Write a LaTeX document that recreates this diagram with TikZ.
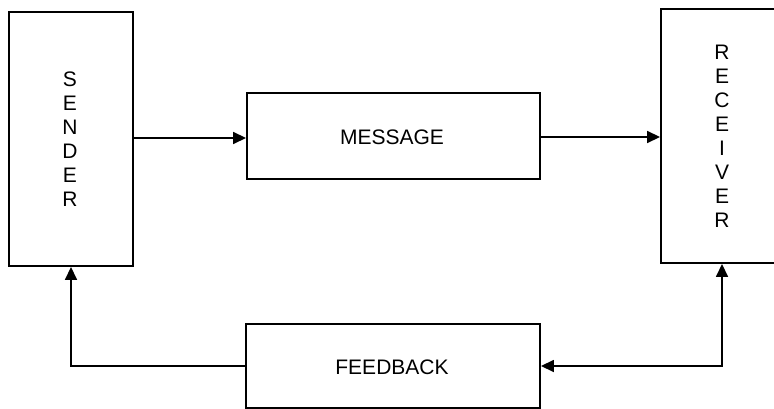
\documentclass[tikz,border=0pt]{standalone}
\usepackage{fontspec}
\setmainfont{Liberation Sans}
\usetikzlibrary{arrows.meta}
\begin{document}
\begin{tikzpicture}[x=1pt,y=-1pt,
  blockbox/.style={draw,line width=1.9pt,inner sep=0pt,anchor=center},
  lbl/.style={font=\fontsize{21}{24}\selectfont,align=center,inner sep=0pt},
  conn/.style={line width=1.6pt,-{Triangle[length=13pt,width=12pt]}}]
\useasboundingbox (0,0) rectangle (774,409);
\clip (0,0) rectangle (774,409);
\fill[white] (0,0) rectangle (774,409);
\node[blockbox,minimum width=124pt,minimum height=254pt] (sender) at (71,139) {};
\node[lbl] (sendertext) at (70,139) {S\\E\\N\\D\\E\\R};
\node[blockbox,minimum width=293pt,minimum height=86pt] (message) at (393.5,136) {};
\node[lbl] (messagetext) at (392,137) {MESSAGE};
\node[blockbox,minimum width=122pt,minimum height=254pt] (receiver) at (722,136) {};
\node[lbl] (receivertext) at (722,136.5) {R\\E\\C\\E\\I\\V\\E\\R};
\node[blockbox,minimum width=294pt,minimum height=84pt] (feedback) at (393,366) {};
\node[lbl] (feedbacktext) at (392,367) {FEEDBACK};
\draw[conn] (sender.east |- 0,138) -- (message.west |- 0,138);
\draw[conn] (message.east |- 0,137) -- (receiver.west |- 0,137);
\draw[conn,{Triangle[length=13pt,width=12pt]}-{Triangle[length=13pt,width=12pt]}] (receiver.south) |- (feedback.east);
\draw[conn] (feedback.west) -| (sender.south);
\end{tikzpicture}
\end{document}
